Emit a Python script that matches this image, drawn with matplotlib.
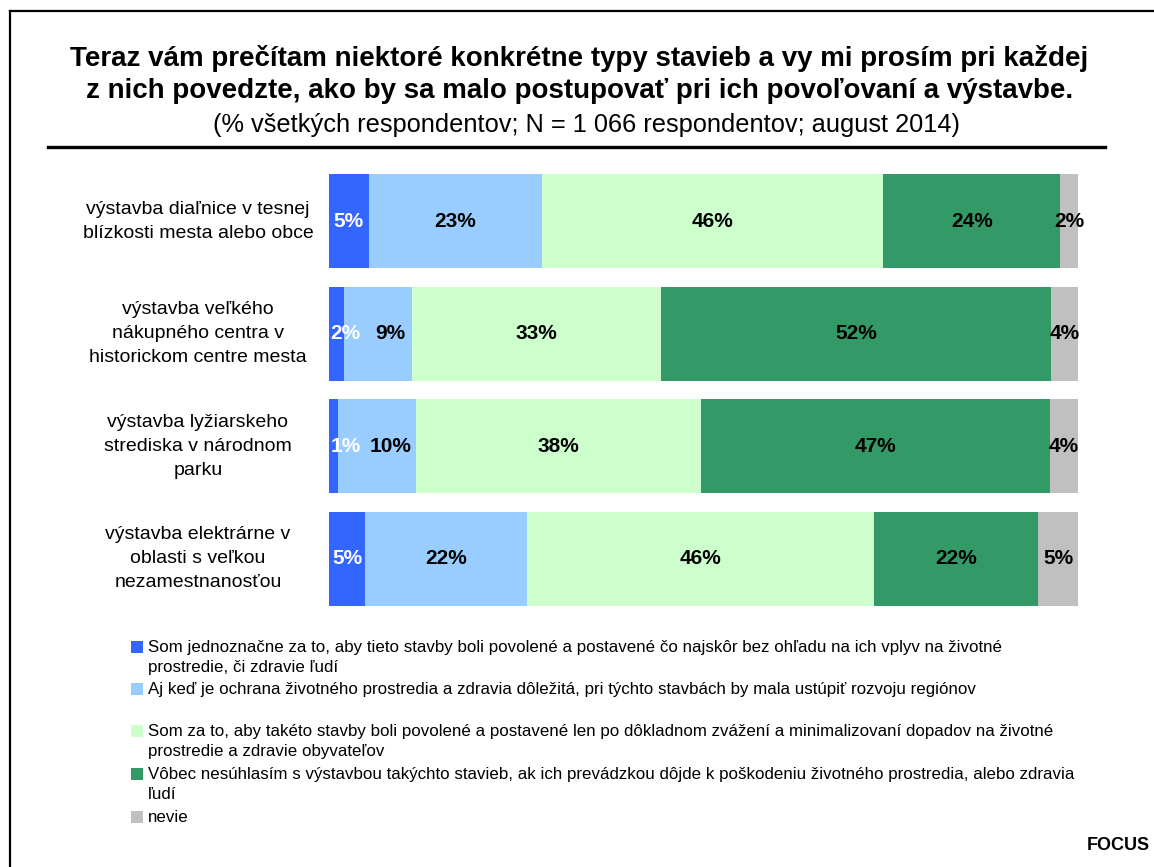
import matplotlib.pyplot as plt
from matplotlib.lines import Line2D
from matplotlib.patches import Rectangle

plt.rcParams['font.family'] = ['Liberation Sans', 'DejaVu Sans']

categories = ['výstavba diaľnice v tesnej\nblízkosti mesta alebo obce',
              'výstavba veľkého\nnákupného centra v\nhistorickom centre mesta',
              'výstavba lyžiarskeho\nstrediska v národnom\nparku',
              'výstavba elektrárne v\noblasti s veľkou\nnezamestnanosťou']

# percent of respondents, per answer, one value per category
za_hned = [5.3, 2.0, 1.2, 4.8]
rozvoj = [23.1, 9.1, 10.4, 21.6]
po_zvazeni = [45.6, 33.2, 38.1, 46.4]
nesuhlasim = [23.6, 52.1, 46.6, 21.9]
nevie = [2.4, 3.6, 3.7, 5.3]

series = [za_hned, rozvoj, po_zvazeni, nesuhlasim, nevie]
colors = ['#3366FF', '#99CCFF', '#CCFFCC', '#339966', '#C0C0C0']
text_colors = ['white', 'black', 'black', 'black', 'black']

legend_labels = [
    'Som jednoznačne za to, aby tieto stavby boli povolené a postavené čo najskôr bez ohľadu na ich vplyv na životné\nprostredie, či zdravie ľudí',
    'Aj keď je ochrana životného prostredia a zdravia dôležitá, pri týchto stavbách by mala ustúpiť rozvoju regiónov',
    'Som za to, aby takéto stavby boli povolené a postavené len po dôkladnom zvážení a minimalizovaní dopadov na životné\nprostredie a zdravie obyvateľov',
    'Vôbec nesúhlasím s výstavbou takýchto stavieb, ak ich prevádzkou dôjde k poškodeniu životného prostredia, alebo zdravia\nľudí',
    'nevie',
]

W, H = 1154, 867
fig = plt.figure(figsize=(W / 100, H / 100), dpi=100)

# outer frame (left and top edges visible)
fig.add_artist(Line2D([10 / W, 10 / W], [0, 1 - 11 / H], color='black', lw=1.6))
fig.add_artist(Line2D([10 / W, 1], [1 - 11 / H, 1 - 11 / H], color='black', lw=1.6))

fig.text(0.502, 1 - 58 / H, 'Teraz vám prečítam niektoré konkrétne typy stavieb a vy mi prosím pri každej',
         ha='center', va='center', fontsize=20, fontweight='bold')
fig.text(0.502, 1 - 91 / H, 'z nich povedzte, ako by sa malo postupovať pri ich povoľovaní a výstavbe.',
         ha='center', va='center', fontsize=20, fontweight='bold')
fig.text(0.508, 1 - 125 / H, '(% všetkých respondentov; N = 1 066 respondentov; august 2014)',
         ha='center', va='center', fontsize=18.3)
fig.add_artist(Line2D([48 / W, 1105 / W], [1 - 147 / H, 1 - 147 / H], color='black', lw=2.4))

ax = fig.add_axes([329 / W, 1 - 615 / H, 749 / W, 450 / H])
ypos = list(range(len(categories)))
left = [0.0] * len(categories)
label_x = {}
for k, vals in enumerate(series):
    bars = ax.barh(ypos, vals, left=left, height=0.835, color=colors[k])
    for i, v in enumerate(vals):
        cx = left[i] + v / 2
        # nudge small labels like the original so they do not overlap
        if k == 0:
            cx = max(cx, 2.2)
        elif k == 1:
            cx = max(cx, label_x[(0, i)] + 6)
        label_x[(k, i)] = cx
        ax.text(cx, i, '%d%%' % round(v), ha='center', va='center',
                fontsize=15, fontweight='bold', color=text_colors[k])
    left = [a + b for a, b in zip(left, vals)]

ax.set_xlim(0, 100)
ax.set_ylim(len(categories) - 0.5, -0.5)
ax.axis('off')

for i, cat in enumerate(categories):
    ax.text(-0.175, i, cat, transform=ax.get_yaxis_transform(), ha='center', va='center',
            fontsize=14, linespacing=1.55, multialignment='center')

# legend, square aligned with first line of each entry
legend_y = [647, 689, 731, 774, 817]
for k, lab in enumerate(legend_labels):
    y = legend_y[k]
    fig.add_artist(Rectangle((131 / W, 1 - (y + 6) / H), 12 / W, 12 / H,
                             facecolor=colors[k], edgecolor='none'))
    fig.text(148 / W, 1 - (y - 7) / H, lab, ha='left', va='top',
             fontsize=12.2, linespacing=1.42)

fig.text(1150 / W, 1 - 845 / H, 'FOCUS', ha='right', va='center', fontsize=13, fontweight='bold')

fig.savefig('out.png', dpi=100)
